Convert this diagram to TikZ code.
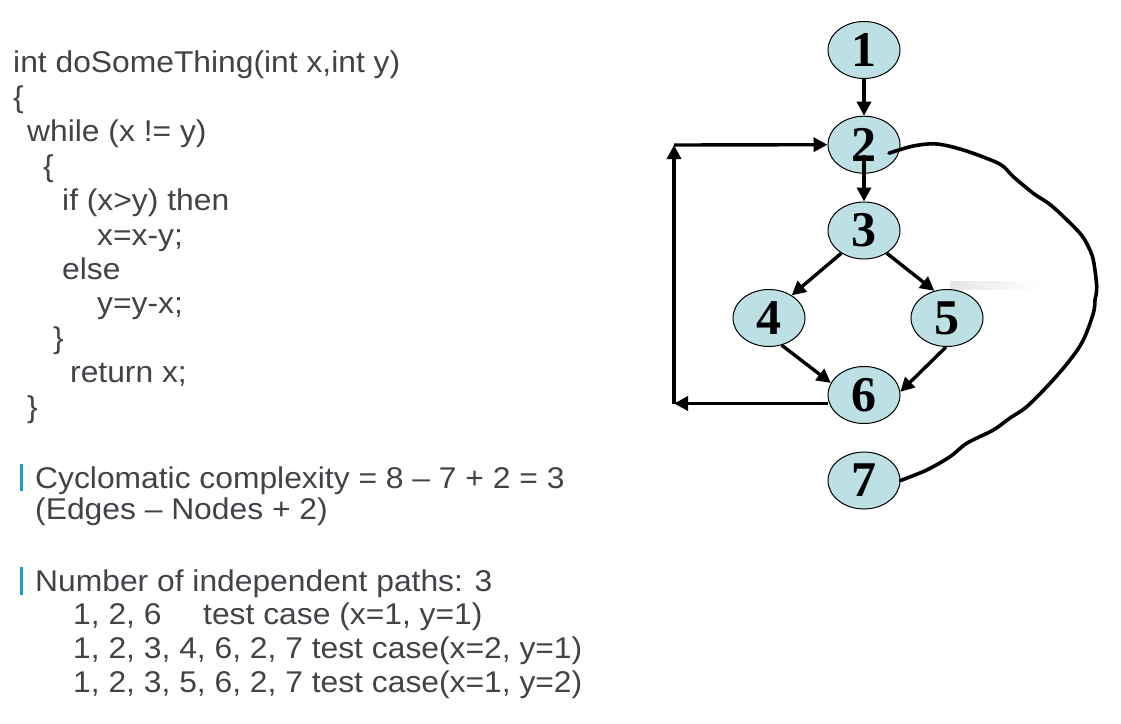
\documentclass[tikz,border=0pt]{standalone}
\usepackage{fontspec}
\newfontfamily\txtfont{Liberation Sans}[FakeStretch=1.06]
\newfontfamily\numfont{Liberation Serif}
\usetikzlibrary{arrows.meta,calc,shapes.geometric}
\definecolor{txtgray}{HTML}{404448}
\definecolor{barblue}{HTML}{1A98D8}
\definecolor{nodefill}{HTML}{BCE0E4}
\begin{document}
\begin{tikzpicture}[x=1pt,y=-1pt,
  code/.style={anchor=base west, inner sep=0pt, font=\txtfont\fontsize{30}{34}\selectfont, text=txtgray},
  vtx/.style={ellipse, draw=black, line width=1pt, fill=nodefill, minimum width=72pt, minimum height=57pt, inner sep=0pt, font=\numfont\bfseries\fontsize{50}{50}\selectfont},
  arr/.style={line width=3.4pt, -{Triangle[length=14pt,width=14pt]}},
  curve/.style={line width=3.6pt, line join=round, line cap=round},
  bar/.style={line width=3pt, draw=barblue}]
\fill[white] (0,0) rectangle (1121,723);
\useasboundingbox (0,0) rectangle (1121,723);

% code
\node[code] (l1) at (13,72.7) {int doSomeThing(int x,int y)};
\node[code] (l2) at (13,107.2) {\{};
\node[code] (l3) at (27,141.6) {while (x != y)};
\node[code] (l4) at (43,176.1) {\{};
\node[code] (l5) at (62,210.5) {if (x>y) then};
\node[code] (l6) at (97,245) {x=x-y;};
\node[code] (l7) at (62,279.4) {else};
\node[code] (l8) at (97,313.9) {y=y-x;};
\node[code] (l9) at (53,348.3) {\}};
\node[code] (l10) at (70,382.8) {return x;};
\node[code] (l11) at (27,417.2) {\}};

% bullets
\draw[bar] (21,464) -- (21,491);
\node[code] (cc) at (35,488) {Cyclomatic complexity = 8 – 7 + 2 = 3};
\node[code] (en) at (35,519) {(Edges – Nodes + 2)};
\draw[bar] (21,567) -- (21,595);
\node[code] (np) at (35,591) {Number of independent paths: 3};
\node[code] (p1) at (73,624) {1, 2, 6};
\node[code] (t1) at (203,624) {test case (x=1, y=1)};
\node[code] (p2) at (73,658) {1, 2, 3, 4, 6, 2, 7 test case(x=2, y=1)};
\node[code] (p3) at (73,692.5) {1, 2, 3, 5, 6, 2, 7 test case(x=1, y=2)};

% smudge
\shade[left color=black!10, right color=white] (950,281) rectangle (1040,289);

% graph nodes
\node[vtx] (n1) at (864,50) {1};
\node[vtx] (n2) at (864,144.7) {2};
\node[vtx] (n3) at (864,230.5) {3};
\node[vtx] (n4) at (769,318) {4};
\node[vtx] (n5) at (947,318) {5};
\node[vtx] (n6) at (864,395) {6};
\node[vtx] (n7) at (864,480.5) {7};

\coordinate (bl) at (674,403.5);
\coordinate (tl) at (674,145);
\coordinate (s23) at ($(n2.center)+(0,10)$);
\coordinate (cs) at ($(n2.center)+(25,8.5)$);

\draw[arr] (n1.south) -- (n2.north);
\draw[arr] (s23) -- (n3.north);
\draw[arr] (n3.225) -- (n4.45);
\draw[arr] (n3.315) -- (n5.115);
\draw[arr] (n4.295) -- (n6.160);
\draw[arr] (n5.268) -- (n6.5);
\draw[arr] (n6.west |- bl) -- (bl);
\draw[arr] (bl) -- (tl);
\draw[arr] (tl) -- (n2.west);

\draw[curve] plot[smooth, tension=0.55] coordinates {(cs) (913.3,146) (936.7,144) (963.3,150) (993.3,161) (1004,167) (1013.3,176.7) (1033.3,193.3) (1048,203) (1060,213.3) (1080,233.3) (1088,246) (1093.3,260) (1096.7,286.7) (1095,300) (1093.3,313.3) (1083.3,340) (1070,360) (1050,383.3) (1026.7,406.7) (1010,418) (993.3,430) (966.7,443.3) (950,456.7) (926.7,470) (n7.east)};
\end{tikzpicture}
\end{document}
